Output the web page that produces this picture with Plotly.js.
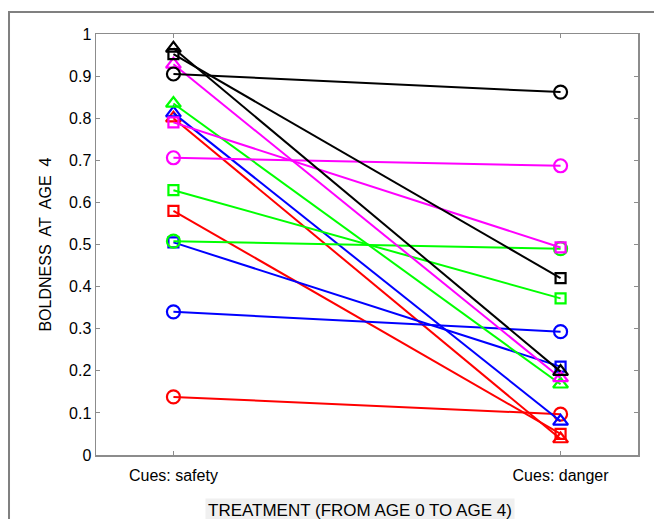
<!DOCTYPE html>
<html>
<head>
<meta charset="utf-8">
<script src="https://cdn.plot.ly/plotly-3.0.1.min.js"></script>
<style>
  html, body { margin: 0; padding: 0; background: #ffffff; }
  #chart { width: 654px; height: 519px; }
</style>
</head>
<body>
<div id="chart"></div>
<script>
// Categories (x axis)
const categories = ['Cues: safety', 'Cues: danger'];
const yTickVals = [0, 0.1, 0.2, 0.3, 0.4, 0.5, 0.6, 0.7, 0.8, 0.9, 1];
const yTickText = ['0', '0.1', '0.2', '0.3', '0.4', '0.5', '0.6', '0.7', '0.8', '0.9', '1'];

// Boldness values [safety, danger]
const red_circle = [0.138, 0.097];
const red_square = [0.580, 0.050];
const red_triangle = [0.800, 0.038];
const green_circle = [0.508, 0.490];
const green_square = [0.629, 0.372];
const green_triangle = [0.835, 0.168];
const blue_circle = [0.340, 0.293];
const blue_square = [0.505, 0.210];
const blue_triangle = [0.812, 0.080];
const magenta_circle = [0.706, 0.687];
const magenta_square = [0.790, 0.493];
const magenta_triangle = [0.928, 0.183];
const black_circle = [0.905, 0.862];
const black_square = [0.952, 0.420];
const black_triangle = [0.966, 0.198];

const seriesList = [
  ['red', 'circle', red_circle], ['red', 'square', red_square], ['red', 'triangle', red_triangle],
  ['blue', 'circle', blue_circle], ['blue', 'square', blue_square], ['blue', 'triangle', blue_triangle],
  ['green', 'circle', green_circle], ['green', 'square', green_square], ['green', 'triangle', green_triangle],
  ['magenta', 'circle', magenta_circle], ['magenta', 'square', magenta_square], ['magenta', 'triangle', magenta_triangle],
  ['black', 'circle', black_circle], ['black', 'square', black_square], ['black', 'triangle', black_triangle]
];

const colorMap = { red: '#ff0000', green: '#00ff00', blue: '#0000ff', magenta: '#ff00ff', black: '#000000' };
const symbolMap = { circle: 'circle-open', square: 'square-open', triangle: 'triangle-up-open' };
const sizeMap = { circle: 13, square: 10, triangle: 13 };

const traces = seriesList.map(s => ({
  type: 'scatter',
  mode: 'lines+markers',
  x: categories,
  y: s[2],
  line: { color: colorMap[s[0]], width: 2 },
  marker: { symbol: symbolMap[s[1]], size: sizeMap[s[1]], color: colorMap[s[0]], line: { color: colorMap[s[0]], width: 2.2 } },
  showlegend: false,
  cliponaxis: false,
  hoverinfo: 'x+y'
}));

const fontFam = 'Liberation Sans, Arial, Helvetica, sans-serif';

const layout = {
  width: 654,
  height: 519,
  margin: { l: 96, r: 16, t: 34, b: 64 },
  paper_bgcolor: '#ffffff',
  plot_bgcolor: '#ffffff',
  font: { family: fontFam, size: 16, color: '#000000' },
  xaxis: {
    type: 'category',
    range: [-0.2, 1.2],
    showgrid: false,
    zeroline: false,
    showline: true,
    linecolor: '#8c8c8c',
    linewidth: 1.5,
    mirror: 'ticks',
    ticks: 'inside',
    ticklen: 4,
    tickcolor: '#8c8c8c',
    tickfont: { family: fontFam, size: 16, color: '#000000' },
    ticklabelstandoff: 5
  },
  yaxis: {
    range: [0, 1],
    tickvals: yTickVals,
    ticktext: yTickText,
    showgrid: false,
    zeroline: false,
    showline: true,
    linecolor: '#8c8c8c',
    linewidth: 1.5,
    mirror: 'ticks',
    ticks: 'inside',
    ticklen: 4,
    tickcolor: '#8c8c8c',
    tickfont: { family: fontFam, size: 16, color: '#000000' }
  },
  shapes: [
    {
      type: 'rect', xref: 'paper', yref: 'paper',
      x0: -0.1605, x1: 1.06, y0: -0.2, y1: 1.052,
      line: { color: '#808080', width: 2 },
      fillcolor: 'rgba(0,0,0,0)',
      layer: 'below'
    }
  ],
  annotations: [
    {
      text: 'BOLDNESS&nbsp; AT&nbsp; AGE&nbsp; 4',
      xref: 'paper', yref: 'paper',
      x: -0.094, y: 0.5,
      xanchor: 'center', yanchor: 'middle',
      textangle: -90,
      showarrow: false,
      font: { family: fontFam, size: 16, color: '#000000' }
    },
    {
      text: 'TREATMENT (FROM AGE 0 TO AGE 4)',
      xref: 'paper', yref: 'paper',
      x: 0.487, y: -0.131,
      xanchor: 'center', yanchor: 'middle',
      showarrow: false,
      bgcolor: '#f0f0f0',
      borderpad: 2,
      font: { family: fontFam, size: 17, color: '#000000' }
    }
  ]
};

Plotly.newPlot('chart', traces, layout, { displayModeBar: false, staticPlot: true });
</script>
</body>
</html>
